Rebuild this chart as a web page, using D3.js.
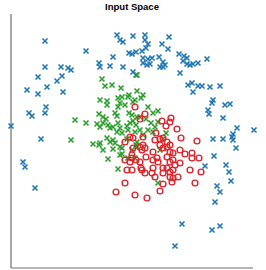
<!DOCTYPE html>
<html>
<head>
<meta charset="utf-8">
<script src="https://cdn.jsdelivr.net/npm/d3@7"></script>
<style>
    body { margin: 0; background: #fff; }
    svg { display: block; }
</style>
</head>
<body>
<div id="chart"></div>
<script>
// samples per class, [feature1, feature2]
let classBlue = [
    [34,227],[75,217],[88,205],[89,201],[99,202],[102,211],[106,233],[109,228],[112,226],[118,215],
    [121,214],[112,201],[122,196],[125,193],[34,201],[50,201],[57,200],[60,198],[27,191],[51,192],
    [46,187],[36,181],[16,178],[27,174],[52,176],[35,161],[34,155],[18,155],[21,152],[0,142],
    [122,232],[134,233],[134,228],[137,224],[135,220],[151,224],[158,231],[157,219],[125,216],[131,217],
    [132,210],[137,209],[141,210],[148,211],[132,205],[136,203],[139,204],[152,206],[154,203],[152,201],
    [149,201],[168,214],[173,212],[176,210],[172,207],[176,204],[179,203],[182,204],[187,205],[196,209],
    [169,195],[177,183],[181,185],[182,176],[187,182],[191,182],[199,181],[209,182],[202,168],[201,165],
    [197,158],[198,154],[214,163],[219,164],[212,150],[226,140],[222,134],[221,131],[222,128],[243,138],
    [202,129],[212,129],[225,120],[203,112],[194,102],[215,103],[218,96],[220,87],[206,82],[209,76],
    [204,66],[171,44],[201,38],[209,42],[164,22],[30,129],[12,106],[14,101],[24,80]
]
let classGreen = [
    [91,189],[94,182],[101,183],[110,180],[89,168],[96,167],[96,163],[107,170],[111,171],[117,171],
    [109,165],[107,161],[114,163],[104,155],[106,152],[88,154],[92,151],[95,149],[64,148],[75,145],
    [86,144],[89,141],[92,145],[97,143],[99,140],[102,141],[118,155],[119,145],[107,145],[109,140],
    [106,136],[111,135],[116,142],[117,138],[121,153],[126,151],[60,128],[82,124],[88,123],[96,130],
    [99,126],[102,128],[92,118],[102,119],[109,121],[116,129],[126,126],[97,109],[107,99],[109,113],
    [121,118],[126,177],[132,173],[130,170],[126,193],[122,166],[137,161],[147,157],[142,155],[129,151],
    [135,149],[140,145],[144,141],[147,146],[122,147],[125,143],[129,138],[124,136],[137,138],[142,136],
    [155,135],[124,168],[118,173],[126,121],[111,114],[124,110],[117,110],[147,85],[149,118],[132,133],
    [152,129],[125,123],[111,120],[104,125],[89,125]
]
let classRed = [
    [124,161],[134,154],[129,149],[151,147],[155,142],[160,150],[159,146],[166,139],[122,130],[132,131],
    [119,131],[114,126],[144,128],[149,129],[152,130],[156,126],[170,130],[186,127],[129,121],[132,123],
    [134,120],[122,120],[149,123],[152,120],[156,121],[159,123],[169,118],[181,115],[142,116],[159,116],
    [162,115],[131,118],[114,108],[121,110],[129,106],[142,108],[146,110],[147,106],[156,111],[159,106],
    [162,108],[164,103],[169,105],[116,98],[121,98],[131,98],[134,95],[141,95],[144,91],[156,100],
    [159,96],[162,98],[152,95],[159,91],[162,90],[167,91],[179,98],[184,85],[114,85],[124,73],
    [136,70],[161,86],[174,114],[181,110],[188,110],[135,111],[125,108],[152,100],[190,96],[152,84],
    [149,77],[105,76],[119,106],[121,113],[145,135],[130,100],[142,100]
]
let xExtent = [0, 242]
let yExtent = [0, 254]
let title = "Input Space"

let width = 266
let height = 270
let margin = { top: 14, right: 13, bottom: 2, left: 11 }

let svg = d3.select("#chart").append("svg")
    .attr("width", width)
    .attr("height", height)

let x = d3.scaleLinear()
    .domain(xExtent)
    .range([margin.left, width - margin.right])
let y = d3.scaleLinear()
    .domain(yExtent)
    .range([height - margin.bottom, margin.top])

// spines, left and bottom only
svg.append("line")
    .attr("x1", margin.left).attr("x2", margin.left)
    .attr("y1", margin.top).attr("y2", height - margin.bottom)
    .style("stroke", "#6e6e6e")
    .style("stroke-width", 1.2)
svg.append("line")
    .attr("x1", margin.left).attr("x2", width - margin.right)
    .attr("y1", height - margin.bottom).attr("y2", height - margin.bottom)
    .style("stroke", "#6e6e6e")
    .style("stroke-width", 1.2)

let s = 2.5
function drawCross(data, color) {
    svg.append("g")
        .selectAll("path")
        .data(data)
        .enter()
        .append("path")
        .attr("transform", function (d) { return "translate(" + x(d[0]) + "," + y(d[1]) + ")" })
        .attr("d", "M" + (-s) + "," + (-s) + "L" + s + "," + s + "M" + (-s) + "," + s + "L" + s + "," + (-s))
        .style("stroke", color)
        .style("stroke-width", 1.6)
        .style("fill", "none")
}

drawCross(classBlue, "#1f77b4")
drawCross(classGreen, "#2ca02c")

svg.append("g")
    .selectAll("circle")
    .data(classRed)
    .enter()
    .append("circle")
    .attr("cx", function (d) { return x(d[0]) })
    .attr("cy", function (d) { return y(d[1]) })
    .attr("r", 2.9)
    .style("fill", "none")
    .style("stroke", "#e0232b")
    .style("stroke-width", 1.4)

svg.append("text")
    .attr("x", (margin.left + width - margin.right) / 2)
    .attr("y", 9.5)
    .attr("text-anchor", "middle")
    .style("font-family", "'Liberation Sans', Arial, sans-serif")
    .style("font-weight", "bold")
    .style("font-size", "9.5px")
    .text(title)
</script>
</body>
</html>
